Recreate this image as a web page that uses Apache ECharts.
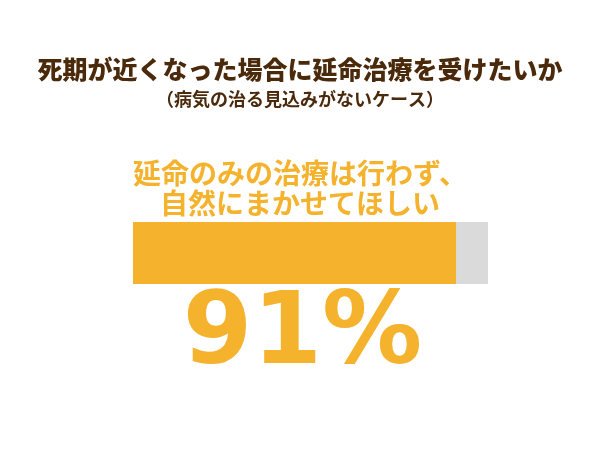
<!DOCTYPE html>
<html>
<head>
<meta charset="utf-8">
<script src="https://cdn.jsdelivr.net/npm/echarts@6/dist/echarts.min.js"></script>
<style>
  html, body { margin: 0; padding: 0; background: #fff; }
  #chart { width: 600px; height: 450px; }
</style>
</head>
<body>
<div id="chart"></div>
<script>
// データ
const categories = ['延命のみの治療は行わず、\n自然にまかせてほしい'];
const values = [91];
const axisMax = 100;

const chart = echarts.init(document.getElementById('chart'));

chart.setOption({
  animation: false,
  title: [
    {
      text: '死期が近くなった場合に延命治療を受けたいか',
      left: 'center',
      top: 52,
      textStyle: { fontSize: 25, fontWeight: 900, color: '#4b2a0c', fontFamily: 'Noto Sans CJK JP' }
    },
    {
      text: '（病気の治る見込みがないケース）',
      left: 'center',
      top: 85,
      textStyle: { fontSize: 18, fontWeight: 'bold', color: '#4b2a0c', fontFamily: 'Noto Sans CJK JP' }
    },
    {
      // 回答項目
      text: categories[0],
      left: 'center',
      top: 153,
      textStyle: { fontSize: 28, fontWeight: 'bold', color: '#f4b22d', lineHeight: 30, fontFamily: 'Noto Sans CJK JP' }
    }
  ],
  grid: { left: 133, right: 112, top: 222, height: 62 },
  xAxis: { type: 'value', min: 0, max: axisMax, show: false },
  yAxis: { type: 'category', data: categories, show: false },
  series: [
    {
      type: 'bar',
      data: values,
      barWidth: '100%',
      itemStyle: { color: '#f4b22d' },
      showBackground: true,
      backgroundStyle: { color: '#dadada' },
      label: {
        show: true,
        position: 'bottom',
        offset: [8, -2],
        formatter: '{c}%',
        fontSize: 100,
        fontWeight: 'bold',
        color: '#f4b22d',
        fontFamily: 'DejaVu Sans'
      }
    }
  ]
});
</script>
</body>
</html>
